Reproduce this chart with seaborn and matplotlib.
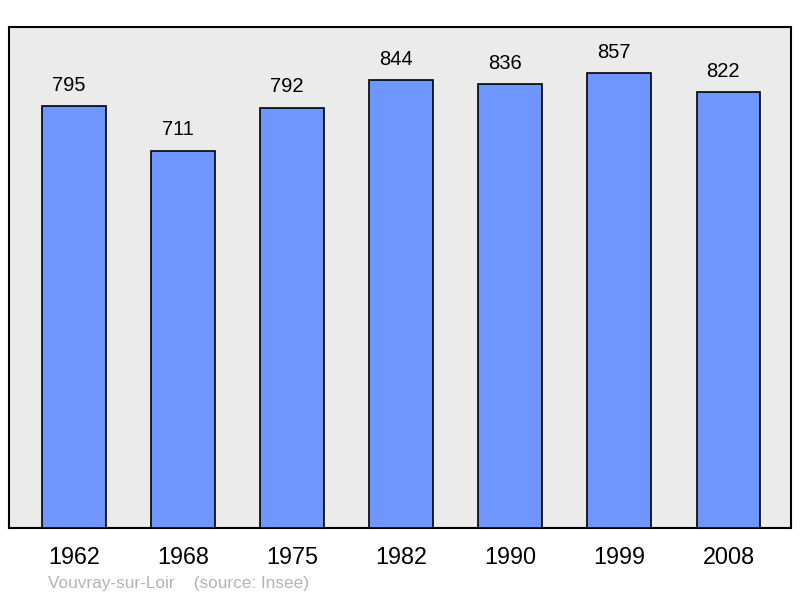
import matplotlib
matplotlib.use("Agg")
import matplotlib.pyplot as plt
import seaborn as sns
import pandas as pd

years = ["1962", "1968", "1975", "1982", "1990", "1999", "2008"]
population = [795, 711, 792, 844, 836, 857, 822]
caption = "Vouvray-sur-Loir    (source: Insee)"

df = pd.DataFrame({"year": years, "pop": population})

sns.set_theme(style="white")
plt.rcParams["font.family"] = ["Liberation Sans", "DejaVu Sans"]

fig = plt.figure(figsize=(8, 5.98), dpi=100)
ax = fig.add_axes([0.011, 0.117, 0.978, 0.838])
ax.set_facecolor("#ebebeb")

sns.barplot(data=df, x="year", y="pop", color="#6f96ff", saturation=1,
            width=0.585, edgecolor="black", linewidth=1.2, ax=ax, zorder=3)

for i, v in enumerate(population):
    ax.annotate(str(v), (i, v), xytext=(-3.8, 8.0), textcoords="offset points",
                ha="center", va="bottom", fontsize=14.5, color="black")

ax.set_xlim(-0.595, 6.575)
ax.set_ylim(0, 944)
ax.set_xlabel("")
ax.set_ylabel("")
ax.set_yticks([])
ax.tick_params(axis="x", length=0, labelsize=16.8, pad=13, colors="black")
for s in ax.spines.values():
    s.set_color("black")
    s.set_linewidth(1.5)

fig.text(0.06, 0.0115, caption, fontsize=12.4, color="#b4b4b4", ha="left", va="bottom")

fig.savefig("out.png", dpi=100)
